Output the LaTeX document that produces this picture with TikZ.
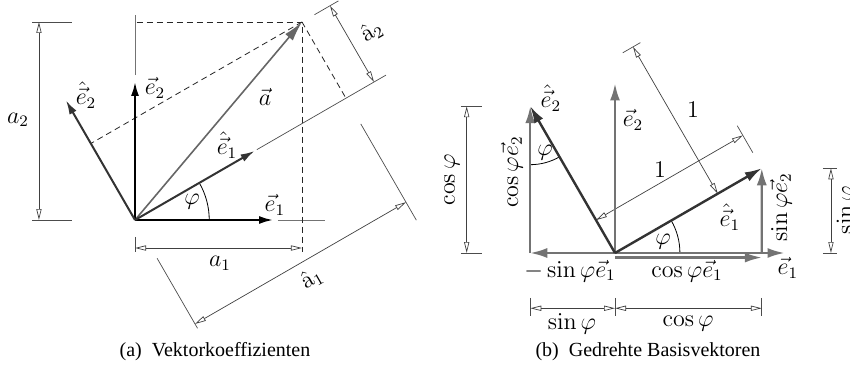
\documentclass[tikz,border=0pt]{standalone}
\usepackage{amsmath,amssymb}
\usepackage[no-math]{fontspec}
\newfontfamily\capfont{Liberation Serif}
\usepackage{tikz}
\usetikzlibrary{arrows.meta,calc}
\tikzset{
  basisvec/.style={
    line width=1pt,
    color=black,
    -{Latex[length=7pt,width=4pt]}
  },
  rotvec/.style={
    line width=1pt,
    color=black!80,
    -{Latex[length=7pt,width=4pt]}
  },
  avec/.style={
    line width=0.8pt,
    color=black!60,
    -{Latex[length=10pt,width=5pt]}
  },
  rotvecB/.style={
    line width=1.2pt,
    color=black!80,
    -{Latex[length=8.5pt,width=5pt]}
  },
  compvec/.style={
    line width=1.1pt,
    color=black!55,
    -{Latex[length=8.5pt,width=5pt]}
  },
  axisline/.style={
    draw=black!55,
    line width=0.5pt
  },
  helpline/.style={
    draw=black!85,
    line width=0.4pt,
    dash pattern=on 3pt off 2pt
  },
  extline/.style={
    draw=black!70,
    line width=0.35pt
  },
  dimline/.style={
    draw=black!75,
    line width=0.35pt,
    {Triangle[open,length=5.5pt,width=2.6pt]}-{Triangle[open,length=5.5pt,width=2.6pt]}
  },
  lbl/.style={
    inner sep=0pt,
    font=\fontsize{12}{14}\selectfont
  },
  captext/.style={
    inner sep=0pt,
    font=\capfont\fontsize{10}{12}\selectfont
  }
}

\begin{document}
\begin{tikzpicture}
  \useasboundingbox (0,0) rectangle (425pt,185pt);
  %% (a)
  \begin{scope}[shift={(67.5pt,75pt)}, x=69pt, y=69pt]
    \coordinate (O) at (0,0);
    \coordinate (A) at (1.21,1.435);
    \draw[axisline] (1.036,0) -- (1.377,0);
    \draw[axisline] (0,1.05) -- (0,1.486);
    \draw[helpline] (0.012,1.435) -- (A) -- (1.21,-0.232);
    % a_2
    \draw[extline] (-0.746,0) -- (-0.457,0);
    \draw[extline] (-0.746,1.435) -- (-0.457,1.435);
    \draw[dimline] (-0.696,0) -- (-0.696,1.435);
    % a_1
    \draw[extline] (0,-0.123) -- (0,-0.232);
    \draw[dimline] (0,-0.203) -- (1.21,-0.203);
    \begin{scope}[rotate=30]
      \draw[extline] (1.02,0) -- (2.1,0);
      \draw[helpline] (A) -- (1.765,0);
      \draw[helpline] (A) -- (0,0.640);
      \draw[extline] (1.87,0.638) -- (2.07,0.638);
      \draw[dimline] (2.0,0) -- (2.0,0.638);
      \draw[extline] (0,-0.32) -- (0,-0.906);
      \draw[extline] (1.765,-0.215) -- (1.765,-1.02);
      \draw[dimline] (0,-0.87) -- (1.765,-0.87);
    \end{scope}
    \draw[black] (0.538,0) arc[start angle=0, end angle=30, radius=0.538];
    \draw[avec] (O) -- (A);
    \draw[basisvec] (O) -- (1,0);
    \draw[basisvec] (O) -- (0,1);
    \draw[rotvec] (O) -- (30:1);
    \draw[rotvec] (O) -- (120:1);
    \node[lbl] (la2) at (-0.848,0.725) {$a_2$};
    \node[lbl] (le2) at (0.145,0.957) {$\vec{e}_2$};
    \node[lbl] (lh2) at (-0.355,0.906) {$\hat{\vec{e}}_2$};
    \node[lbl] (la) at (0.942,0.891) {$\vec{a}$};
    \node[lbl] (lh1) at (0.667,0.543) {$\hat{\vec{e}}_1$};
    \node[lbl] (lphi) at (0.413,0.13) {$\varphi$};
    \node[lbl] (le1) at (1.014,0.109) {$\vec{e}_1$};
    \node[lbl] (la1) at (0.616,-0.314) {$a_1$};
    \node[lbl, rotate=30] (lha1) at (1.28,-0.423) {$\hat{\mathrm{a}}_1$};
    \node[lbl, rotate=30] (lha2) at (1.715,1.365) {$\hat{\mathrm{a}}_2$};
  \end{scope}
  %% (b)
  \begin{scope}[shift={(307.5pt,58.5pt)}, x=84.75pt, y=84.75pt]
    \coordinate (P) at (0,0);
    \coordinate (H1) at (30:1);
    \coordinate (H2) at (120:1);
    \coordinate (S) at (-0.5,0);
    \coordinate (C) at (0.866,0);
    % cos phi
    \draw[extline] (-0.91,0) -- (-0.786,0);
    \draw[extline] (-0.91,0.866) -- (-0.786,0.866);
    \draw[dimline] (-0.875,0) -- (-0.875,0.866);
    % sin phi
    \draw[extline] (1.227,0) -- (1.31,0);
    \draw[extline] (1.227,0.5) -- (1.31,0.5);
    \draw[dimline] (1.274,0) -- (1.274,0.5);
    % unten
    \foreach \t in {-0.5,0,0.866}
      \draw[extline] (\t,-0.265) -- (\t,-0.372);
    \draw[dimline] (-0.5,-0.326) -- (0,-0.326);
    \draw[dimline] (0,-0.326) -- (0.866,-0.326);
    \begin{scope}[rotate=30]
      \draw[extline] (1,0.106) -- (1,0.29);
      \draw[dimline] (0,0.224) -- (1,0.224);
      \draw[extline] (0.63,1) -- (0.75,1);
      \draw[dimline] (0.7,1) -- (0.7,0);
    \end{scope}
    \draw[black] (0.383,0) arc[start angle=0, end angle=30, radius=0.383];
    \draw[black] ($(H2)+(-90:0.345)$) arc[start angle=-90, end angle=-60, radius=0.345];
    \draw[compvec] (P) -- (S);
    \draw[compvec] (S) -- (H2);
    \draw[compvec] (P) -- (1,0);
    \draw[compvec] (P) -- (0,1);
    \draw[compvec] (0,-0.027) -- (0.866,-0.027);
    \draw[compvec] (C) -- (H1);
    \draw[rotvecB] (P) -- (H1);
    \draw[rotvecB] (P) -- (H2);
    \node[lbl] (rh2) at (-0.378,0.914) {$\hat{\vec{e}}_2$};
    \node[lbl] (re2) at (0.106,0.785) {$\vec{e}_2$};
    \node[lbl, rotate=90] (rcos) at (-0.962,0.431) {$\cos\varphi$};
    \node[lbl, rotate=90] (rcose2) at (-0.608,0.478) {$\cos\varphi\vec{e}_2$};
    \node[lbl] (rphiA) at (-0.413,0.59) {$\varphi$};
    \node[lbl] (roneA) at (0.46,0.844) {$1$};
    \node[lbl] (roneB) at (0.265,0.49) {$1$};
    \node[lbl] (rh1) at (0.678,0.212) {$\hat{\vec{e}}_1$};
    \node[lbl] (rphiB) at (0.283,0.065) {$\varphi$};
    \node[lbl, rotate=90] (rsine2) at (0.979,0.271) {$\sin\varphi\vec{e}_2$};
    \node[lbl] (re1) at (1.02,-0.088) {$\vec{e}_1$};
    \node[lbl] (rmsine1) at (-0.265,-0.106) {$-\sin\varphi\vec{e}_1$};
    \node[lbl] (rcose1) at (0.425,-0.106) {$\cos\varphi\vec{e}_1$};
    \node[lbl] (rsinB) at (-0.254,-0.419) {$\sin\varphi$};
    \node[lbl] (rcosB) at (0.431,-0.419) {$\cos\varphi$};
    \node[lbl, rotate=90] (rsin) at (1.369,0.254) {$\sin\varphi$};
  \end{scope}
  \node[captext] (capa) at (107.5pt,9pt) {(a)\enspace Vektorkoeffizienten};
  \node[captext] (capb) at (324pt,9pt) {(b)\enspace Gedrehte Basisvektoren};
\end{tikzpicture}
\end{document}
